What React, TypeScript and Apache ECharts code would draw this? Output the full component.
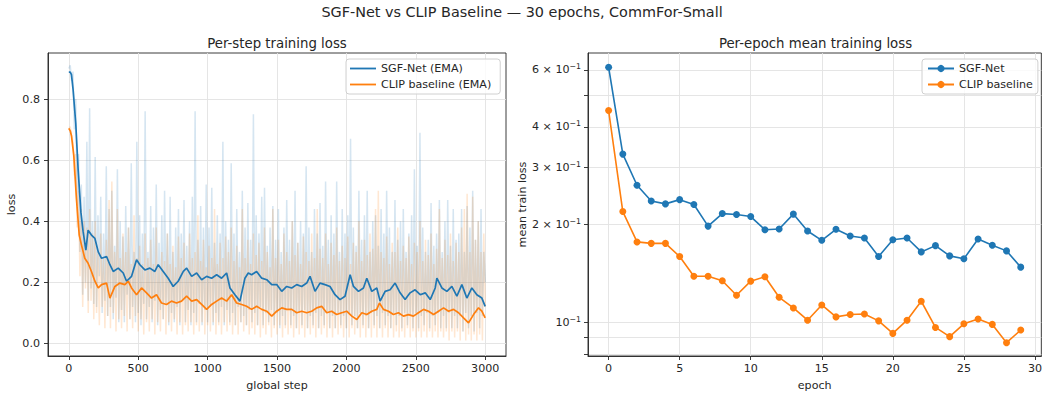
import React, { useEffect, useRef } from "react";
import * as echarts from "echarts";

const FONT = "DejaVu Sans";
const BLUE = "#1f77b4";
const ORANGE = "#ff7f0e";
const INK = "#262626";

// ---- Left panel: per-step loss ----
const RAW_STEP = 10; // raw samples are spaced by 10 global steps
const rawSgf = [
  0.90, 0.91, 0.86, 0.89, 0.70, 0.80, 0.45, 0.62, 0.30, 0.52,
  0.16, 0.48, 0.20, 0.66, 0.14, 0.77, 0.18, 0.40, 0.13, 0.61,
  0.12, 0.42, 0.22, 0.48, 0.10, 0.36, 0.14, 0.58, 0.09, 0.44,
  0.12, 0.50, 0.08, 0.32, 0.15, 0.57, 0.07, 0.40, 0.11, 0.35,
  0.07, 0.45, 0.16, 0.38, 0.08, 0.59, 0.12, 0.30, 0.07, 0.66,
  0.10, 0.42, 0.06, 0.36, 0.13, 0.76, 0.08, 0.30, 0.12, 0.45,
  0.07, 0.38, 0.14, 0.52, 0.06, 0.33, 0.11, 0.42, 0.08, 0.50,
  0.13, 0.36, 0.06, 0.48, 0.10, 0.30, 0.07, 0.38, 0.12, 0.44,
  0.06, 0.36, 0.14, 0.47, 0.07, 0.32, 0.11, 0.40, 0.06, 0.48,
  0.10, 0.76, 0.07, 0.34, 0.13, 0.45, 0.06, 0.38, 0.11, 0.52,
  0.07, 0.38, 0.12, 0.51, 0.06, 0.33, 0.10, 0.42, 0.07, 0.36,
  0.12, 0.66, 0.06, 0.40, 0.11, 0.34, 0.07, 0.59, 0.10, 0.36,
  0.06, 0.44, 0.12, 0.30, 0.07, 0.50, 0.09, 0.38, 0.06, 0.46,
  0.11, 0.34, 0.07, 0.75, 0.10, 0.42, 0.06, 0.36, 0.12, 0.48,
  0.06, 0.51, 0.10, 0.32, 0.07, 0.38, 0.11, 0.45, 0.06, 0.34,
  0.10, 0.44, 0.05, 0.30, 0.09, 0.38, 0.06, 0.47, 0.11, 0.34,
  0.06, 0.40, 0.09, 0.50, 0.05, 0.33, 0.10, 0.40, 0.06, 0.36,
  0.11, 0.58, 0.05, 0.38, 0.09, 0.30, 0.06, 0.44, 0.10, 0.36,
  0.05, 0.46, 0.09, 0.32, 0.06, 0.53, 0.10, 0.34, 0.05, 0.42,
  0.09, 0.36, 0.05, 0.53, 0.10, 0.30, 0.06, 0.44, 0.09, 0.36,
  0.05, 0.42, 0.10, 0.67, 0.06, 0.38, 0.09, 0.32, 0.05, 0.50,
  0.10, 0.34, 0.06, 0.42, 0.09, 0.50, 0.05, 0.30, 0.10, 0.40,
  0.06, 0.42, 0.09, 0.32, 0.05, 0.44, 0.10, 0.36, 0.06, 0.50,
  0.09, 0.38, 0.05, 0.30, 0.10, 0.47, 0.06, 0.34, 0.09, 0.40,
  0.05, 0.44, 0.10, 0.30, 0.06, 0.36, 0.09, 0.42, 0.05, 0.57,
  0.10, 0.32, 0.05, 0.69, 0.09, 0.38, 0.06, 0.30, 0.10, 0.34,
  0.05, 0.46, 0.09, 0.32, 0.06, 0.36, 0.10, 0.47, 0.05, 0.30,
  0.09, 0.40, 0.05, 0.47, 0.10, 0.32, 0.05, 0.44, 0.09, 0.34,
  0.05, 0.36, 0.09, 0.44, 0.04, 0.30, 0.10, 0.45, 0.05, 0.38,
  0.09, 0.50, 0.04, 0.34, 0.10, 0.40, 0.05, 0.44, 0.09, 0.30,
  0.20,
];
const rawClip = [
  0.70, 0.71, 0.68, 0.66, 0.55, 0.62, 0.38, 0.50, 0.22, 0.44,
  0.12, 0.40, 0.18, 0.38, 0.10, 0.44, 0.14, 0.36, 0.08, 0.40,
  0.10, 0.30, 0.06, 0.36, 0.12, 0.28, 0.05, 0.34, 0.09, 0.47,
  0.05, 0.53, 0.10, 0.30, 0.04, 0.44, 0.08, 0.28, 0.05, 0.36,
  0.09, 0.30, 0.04, 0.38, 0.08, 0.26, 0.05, 0.42, 0.09, 0.28,
  0.04, 0.32, 0.08, 0.26, 0.03, 0.36, 0.07, 0.28, 0.04, 0.34,
  0.08, 0.26, 0.03, 0.38, 0.07, 0.25, 0.04, 0.30, 0.08, 0.27,
  0.03, 0.36, 0.07, 0.26, 0.04, 0.32, 0.08, 0.25, 0.03, 0.35,
  0.07, 0.28, 0.03, 0.33, 0.06, 0.25, 0.04, 0.36, 0.07, 0.28,
  0.03, 0.30, 0.06, 0.42, 0.04, 0.27, 0.07, 0.34, 0.03, 0.25,
  0.06, 0.32, 0.04, 0.28, 0.07, 0.44, 0.03, 0.26, 0.06, 0.33,
  0.03, 0.28, 0.07, 0.35, 0.04, 0.30, 0.06, 0.38, 0.03, 0.27,
  0.06, 0.32, 0.03, 0.25, 0.07, 0.44, 0.04, 0.28, 0.06, 0.34,
  0.03, 0.26, 0.05, 0.36, 0.03, 0.29, 0.06, 0.33, 0.02, 0.27,
  0.05, 0.38, 0.03, 0.30, 0.06, 0.25, 0.02, 0.44, 0.05, 0.28,
  0.03, 0.34, 0.06, 0.26, 0.02, 0.36, 0.05, 0.30, 0.03, 0.27,
  0.05, 0.40, 0.02, 0.29, 0.05, 0.33, 0.03, 0.26, 0.05, 0.35,
  0.02, 0.30, 0.05, 0.27, 0.03, 0.36, 0.05, 0.28, 0.02, 0.44,
  0.05, 0.31, 0.03, 0.28, 0.05, 0.36, 0.02, 0.26, 0.05, 0.33,
  0.02, 0.29, 0.05, 0.38, 0.03, 0.27, 0.05, 0.32, 0.02, 0.28,
  0.05, 0.35, 0.02, 0.26, 0.05, 0.33, 0.03, 0.30, 0.05, 0.40,
  0.02, 0.27, 0.05, 0.34, 0.02, 0.29, 0.05, 0.36, 0.02, 0.31,
  0.05, 0.44, 0.02, 0.50, 0.05, 0.30, 0.02, 0.28, 0.05, 0.35,
  0.02, 0.26, 0.05, 0.33, 0.02, 0.30, 0.04, 0.38, 0.02, 0.27,
  0.04, 0.32, 0.02, 0.28, 0.05, 0.35, 0.02, 0.26, 0.04, 0.33,
  0.02, 0.30, 0.04, 0.40, 0.02, 0.27, 0.04, 0.34, 0.02, 0.29,
  0.04, 0.36, 0.02, 0.26, 0.04, 0.31, 0.02, 0.44, 0.04, 0.28,
  0.02, 0.34, 0.04, 0.29, 0.01, 0.36, 0.04, 0.27, 0.02, 0.33,
  0.04, 0.30, 0.01, 0.38, 0.04, 0.44, 0.01, 0.49, 0.03, 0.30,
  0.01, 0.48, 0.03, 0.34, 0.01, 0.40, 0.03, 0.30, 0.01, 0.36,
  0.12,
];

const emaSgfSteps = [
  0, 10, 19, 31, 50, 67, 87, 103, 123, 139,
  163, 188, 212, 236, 272, 296, 320, 356, 392, 416,
  452, 488, 512, 548, 584, 620, 644, 680, 716, 752,
  788, 825, 849, 885, 921, 957, 993, 1029, 1065, 1101,
  1137, 1161, 1197, 1233, 1269, 1293, 1317, 1353, 1390, 1426,
  1462, 1498, 1534, 1570, 1606, 1642, 1678, 1714, 1738, 1774,
  1810, 1846, 1882, 1918, 1954, 1990, 2027, 2051, 2087, 2123,
  2147, 2183, 2219, 2243, 2279, 2315, 2351, 2387, 2423, 2459,
  2495, 2532, 2568, 2604, 2640, 2652, 2688, 2724, 2760, 2796,
  2832, 2868, 2904, 2940, 2976, 3000,
];
const emaSgf = [
  0.888, 0.888, 0.88, 0.83, 0.72, 0.57, 0.43, 0.366, 0.306, 0.371,
  0.355, 0.344, 0.30, 0.279, 0.285, 0.258, 0.236, 0.247, 0.231, 0.204,
  0.22, 0.274, 0.258, 0.241, 0.247, 0.236, 0.258, 0.236, 0.214, 0.187,
  0.204, 0.236, 0.247, 0.22, 0.231, 0.209, 0.22, 0.214, 0.225, 0.214,
  0.231, 0.182, 0.16, 0.139, 0.214, 0.231, 0.225, 0.236, 0.214, 0.209,
  0.193, 0.193, 0.171, 0.187, 0.182, 0.193, 0.187, 0.198, 0.22, 0.171,
  0.198, 0.193, 0.187, 0.16, 0.144, 0.155, 0.225, 0.187, 0.171, 0.182,
  0.214, 0.171, 0.182, 0.139, 0.171, 0.176, 0.198, 0.166, 0.144, 0.166,
  0.176, 0.16, 0.166, 0.144, 0.182, 0.214, 0.182, 0.171, 0.187, 0.155,
  0.193, 0.149, 0.182, 0.16, 0.149, 0.122,
];
const emaClipSteps = [
  0, 10, 19, 36, 55, 75, 91, 115, 139, 163,
  188, 212, 236, 272, 296, 332, 368, 404, 428, 452,
  488, 524, 560, 596, 632, 668, 704, 740, 776, 812,
  849, 885, 921, 957, 993, 1029, 1065, 1101, 1137, 1173,
  1209, 1245, 1281, 1317, 1353, 1390, 1426, 1462, 1498, 1534,
  1570, 1606, 1642, 1678, 1714, 1750, 1786, 1822, 1858, 1894,
  1930, 1966, 2002, 2039, 2075, 2111, 2147, 2183, 2219, 2238,
  2267, 2303, 2339, 2375, 2411, 2447, 2483, 2519, 2556, 2592,
  2628, 2664, 2700, 2736, 2772, 2808, 2844, 2880, 2916, 2952,
  2976, 3000,
];
const emaClip = [
  0.704, 0.696, 0.68, 0.615, 0.474, 0.355, 0.323, 0.279, 0.263, 0.236,
  0.204, 0.182, 0.193, 0.198, 0.149, 0.187, 0.198, 0.193, 0.204, 0.182,
  0.16, 0.182, 0.166, 0.149, 0.16, 0.133, 0.128, 0.139, 0.133, 0.139,
  0.155, 0.139, 0.144, 0.128, 0.112, 0.128, 0.139, 0.149, 0.139, 0.16,
  0.133, 0.128, 0.122, 0.112, 0.122, 0.112, 0.106, 0.09, 0.106, 0.117,
  0.112, 0.112, 0.101, 0.106, 0.101, 0.106, 0.117, 0.122, 0.101, 0.106,
  0.095, 0.101, 0.106, 0.09, 0.079, 0.101, 0.095, 0.106, 0.112, 0.133,
  0.112, 0.106, 0.095, 0.101, 0.09, 0.095, 0.09, 0.101, 0.112, 0.106,
  0.095, 0.106, 0.117, 0.106, 0.112, 0.101, 0.084, 0.068, 0.095, 0.117,
  0.106, 0.084,
];
const stepTicks = [0, 500, 1000, 1500, 2000, 2500, 3000];
const lossTicks = [0, 0.2, 0.4, 0.6, 0.8];

// ---- Right panel: per-epoch mean loss ----
const epochs = [
  0, 1, 2, 3, 4, 5, 6, 7, 8, 9, 10, 11, 12, 13, 14,
  15, 16, 17, 18, 19, 20, 21, 22, 23, 24, 25, 26, 27, 28, 29,
];
const epochSgf = [
  0.611, 0.330, 0.2645, 0.2367, 0.2318, 0.2389, 0.2307, 0.198, 0.2164, 0.2149,
  0.2119, 0.193, 0.194, 0.2156, 0.1912, 0.179, 0.1936, 0.1846, 0.182, 0.1596,
  0.1798, 0.182, 0.1649, 0.1724, 0.1603, 0.157, 0.1807, 0.1728, 0.1661, 0.148,
];
const epochClip = [
  0.4495, 0.2195, 0.177, 0.1752, 0.1752, 0.1596, 0.1388, 0.1388, 0.1344, 0.1212,
  0.134, 0.1383, 0.1195, 0.1108, 0.1016, 0.1132, 0.104, 0.1058, 0.1062, 0.1011,
  0.0925, 0.1016, 0.1162, 0.0965, 0.0904, 0.099, 0.1025, 0.0986, 0.0866, 0.0947,
];
const epochTicks = [0, 5, 10, 15, 20, 25, 30];
const logTickValues = [0.08, 0.09, 0.1, 0.2, 0.3, 0.4, 0.5, 0.6];
const logLabelValues = [0.1, 0.2, 0.3, 0.4, 0.6];

const labelStyle = { color: INK, fontSize: 11.1, fontFamily: FONT };
const nameStyle = { color: INK, fontSize: 11.1, fontFamily: FONT };
const tickStyle = { show: true, inside: false, length: 4, lineStyle: { color: INK, width: 0.9 } };
const gridLine = { show: true, lineStyle: { color: "#e2e2e2", width: 0.9 } };
const axisLine = { show: true, onZero: false, lineStyle: { color: INK, width: 0.9 } };

const legendCommon = {
  orient: "vertical" as const,
  backgroundColor: "rgba(255,255,255,0.8)",
  borderColor: "#d0d0d0",
  borderWidth: 1,
  borderRadius: 3,
  textStyle: { color: INK, fontSize: 11.1, fontFamily: FONT },
};

function logLabel(v: number): string {
  const n = Math.round(v * 10);
  if (n === 1) return "{m|10}{s|−1}";
  return `{m|${n} × 10}{s|−1}`;
}

export default function App() {
  const ref = useRef<HTMLDivElement>(null);
  useEffect(() => {
    const chart = echarts.init(ref.current!, null, { renderer: "svg" });
    const option: any = {
      animation: false,
      backgroundColor: "#ffffff",
      textStyle: { fontFamily: FONT },
      graphic: [
        {
          type: "text", x: 522, y: 11.5,
          style: { text: "SGF-Net vs CLIP Baseline — 30 epochs, CommFor-Small", fill: INK, font: `14.4px '${FONT}'`, align: "center", verticalAlign: "middle" },
        },
        {
          type: "text", x: 277, y: 43,
          style: { text: "Per-step training loss", fill: INK, font: `13.3px '${FONT}'`, align: "center", verticalAlign: "middle" },
        },
        {
          type: "text", x: 815.5, y: 43,
          style: { text: "Per-epoch mean training loss", fill: INK, font: `13.3px '${FONT}'`, align: "center", verticalAlign: "middle" },
        },
      ],
      grid: [
        { left: 48, top: 53, width: 458, height: 305, show: true, borderColor: INK, borderWidth: 0.9, backgroundColor: "transparent" },
        { left: 588, top: 53, width: 455, height: 305, show: true, borderColor: INK, borderWidth: 0.9, backgroundColor: "transparent" },
      ],
      xAxis: [
        {
          type: "value", gridIndex: 0, min: -150, max: 3150,
          axisLine, axisTick: { ...tickStyle, customValues: stepTicks },
          axisLabel: { ...labelStyle, margin: 7, customValues: stepTicks, formatter: (v: number) => String(v) },
          splitLine: gridLine,
          name: "global step", nameLocation: "middle", nameGap: 24, nameTextStyle: nameStyle,
        },
        {
          type: "value", gridIndex: 1, min: -1.45, max: 30.45,
          axisLine, axisTick: { ...tickStyle, customValues: epochTicks },
          axisLabel: { ...labelStyle, margin: 7, customValues: epochTicks, formatter: (v: number) => String(v) },
          splitLine: gridLine,
          name: "epoch", nameLocation: "middle", nameGap: 24, nameTextStyle: nameStyle,
        },
      ],
      yAxis: [
        {
          type: "value", gridIndex: 0, min: -0.0405, max: 0.9505,
          axisLine, axisTick: { ...tickStyle, customValues: lossTicks },
          axisLabel: { ...labelStyle, margin: 8, customValues: lossTicks, formatter: (v: number) => v.toFixed(1) },
          splitLine: gridLine,
          name: "loss", nameLocation: "middle", nameGap: 31, nameRotate: 90, nameTextStyle: nameStyle,
        },
        {
          type: "log", logBase: 10, gridIndex: 1, min: 0.0788, max: 0.676,
          axisLine, axisTick: { ...tickStyle, customValues: logTickValues },
          axisLabel: {
            ...labelStyle, margin: 7, customValues: logLabelValues, formatter: logLabel,
            rich: {
              m: { fontSize: 11.1, fontFamily: FONT, color: INK },
              s: { fontSize: 7.8, fontFamily: FONT, color: INK, verticalAlign: "top", padding: [0, 0, 6, 0] },
            },
          },
          splitLine: gridLine,
          minorTick: { show: false }, minorSplitLine: { show: false },
          name: "mean train loss", nameLocation: "middle", nameGap: 58, nameRotate: 90, nameTextStyle: nameStyle,
        },
      ],
      legend: [
        {
          ...legendCommon, left: 346, top: 59, padding: [4, 9, 4, 4],
          itemWidth: 26, itemHeight: 1.8, itemGap: 5, icon: "rect",
          data: ["SGF-Net (EMA)", "CLIP baseline (EMA)"],
        },
        {
          ...legendCommon, left: 922, top: 59, padding: [4, 5, 4, 5],
          itemWidth: 26, itemHeight: 9, itemGap: 5,
          data: ["SGF-Net", "CLIP baseline"],
        },
      ],
      series: [
        {
          name: "SGF-Net raw", type: "line", xAxisIndex: 0, yAxisIndex: 0, symbol: "none", silent: true,
          data: rawSgf.map((v, i) => [i * RAW_STEP, v]),
          lineStyle: { color: BLUE, width: 1.5, opacity: 0.19 }, itemStyle: { color: BLUE },
        },
        {
          name: "CLIP raw", type: "line", xAxisIndex: 0, yAxisIndex: 0, symbol: "none", silent: true,
          data: rawClip.map((v, i) => [i * RAW_STEP, v]),
          lineStyle: { color: ORANGE, width: 1.5, opacity: 0.19 }, itemStyle: { color: ORANGE },
        },
        {
          name: "SGF-Net (EMA)", type: "line", xAxisIndex: 0, yAxisIndex: 0, symbol: "none",
          data: emaSgfSteps.map((s, i) => [s, emaSgf[i]]),
          lineStyle: { color: BLUE, width: 1.7 }, itemStyle: { color: BLUE },
        },
        {
          name: "CLIP baseline (EMA)", type: "line", xAxisIndex: 0, yAxisIndex: 0, symbol: "none",
          data: emaClipSteps.map((s, i) => [s, emaClip[i]]),
          lineStyle: { color: ORANGE, width: 1.7 }, itemStyle: { color: ORANGE },
        },
        {
          name: "SGF-Net", type: "line", xAxisIndex: 1, yAxisIndex: 1, symbol: "circle", symbolSize: 7,
          data: epochs.map((e, i) => [e, epochSgf[i]]),
          lineStyle: { color: BLUE, width: 1.6 }, itemStyle: { color: BLUE },
        },
        {
          name: "CLIP baseline", type: "line", xAxisIndex: 1, yAxisIndex: 1, symbol: "circle", symbolSize: 7,
          data: epochs.map((e, i) => [e, epochClip[i]]),
          lineStyle: { color: ORANGE, width: 1.6 }, itemStyle: { color: ORANGE },
        },
      ],
    };
    chart.setOption(option);
    return () => chart.dispose();
  }, []);
  return (
    <div
      ref={ref}
      style={{ position: "fixed", left: 0, top: 0, width: 1045, height: 396, background: "#fff" }}
    />
  );
}
